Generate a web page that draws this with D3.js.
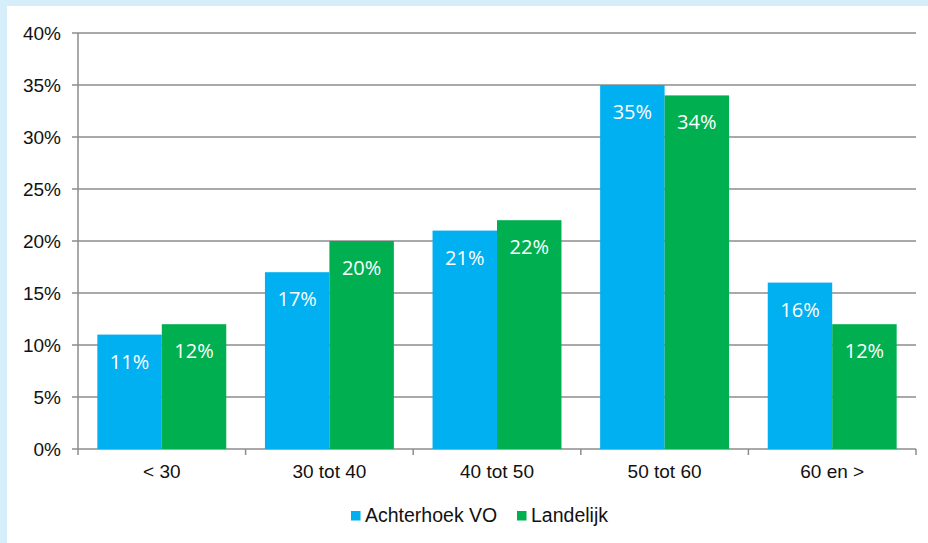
<!DOCTYPE html>
<html>
<head>
<meta charset="utf-8">
<script src="https://cdn.jsdelivr.net/npm/d3@7"></script>
<style>
  html, body { margin: 0; padding: 0; background: #d5eefa; }
  svg { display: block; }
</style>
</head>
<body>
<svg id="chart"></svg>
<script>
// data
const categories = ['< 30', '30 tot 40', '40 tot 50', '50 tot 60', '60 en >'];
const achterhoek = [11, 17, 21, 35, 16];
const landelijk = [12, 20, 22, 34, 12];
const yTicks = [0, 5, 10, 15, 20, 25, 30, 35, 40];
const seriesNames = ['Achterhoek VO', 'Landelijk'];
const colors = ['#00b0f0', '#00b050'];

const W = 928, H = 543;
const margin = {top: 33, right: 12, bottom: 94, left: 78};

const svg = d3.select('#chart').attr('width', W).attr('height', H);

// white card, light blue strip on top and left
svg.append('rect')
  .attr('x', 7).attr('y', 6)
  .attr('width', W - 7).attr('height', H - 6)
  .attr('fill', '#fff');

const x0 = d3.scaleBand()
  .domain(categories)
  .range([margin.left, W - margin.right])
  .paddingInner(0.6 / 2.6)
  .paddingOuter(0.3 / 2.6);

const x1 = d3.scaleBand()
  .domain(seriesNames)
  .range([0, x0.bandwidth()]);

const y = d3.scaleLinear()
  .domain([0, 40])
  .range([H - margin.bottom, margin.top]);

const axisColor = '#8c8c8c';

// gridlines
svg.append('g')
  .selectAll('line')
  .data(yTicks)
  .join('line')
    .attr('x1', margin.left - 6)
    .attr('x2', W - margin.right)
    .attr('y1', d => y(d))
    .attr('y2', d => y(d))
    .attr('stroke', axisColor)
    .attr('stroke-width', 1.5);

// y labels
svg.append('g')
  .selectAll('text')
  .data(yTicks)
  .join('text')
    .attr('x', margin.left - 17)
    .attr('y', d => y(d))
    .attr('dy', '0.35em')
    .attr('text-anchor', 'end')
    .attr('font-family', 'Liberation Sans, Arial, sans-serif')
    .attr('font-size', 19)
    .attr('fill', '#111')
    .text(d => d + '%');

// bars
const groups = svg.append('g')
  .selectAll('g')
  .data(categories)
  .join('g')
    .attr('transform', d => `translate(${x0(d)},0)`);

const barData = (c, i) => [
  {name: seriesNames[0], value: achterhoek[i]},
  {name: seriesNames[1], value: landelijk[i]}
];

groups.selectAll('rect')
  .data(barData)
  .join('rect')
    .attr('x', d => x1(d.name))
    .attr('y', d => y(d.value))
    .attr('width', x1.bandwidth())
    .attr('height', d => y(0) - y(d.value))
    .attr('fill', (d, i) => colors[i]);

groups.selectAll('text')
  .data(barData)
  .join('text')
    .attr('x', d => x1(d.name) + x1.bandwidth() / 2)
    .attr('y', d => y(d.value) + 34)
    .attr('text-anchor', 'middle')
    .attr('font-family', 'Open Sans, Noto Sans, sans-serif')
    .attr('font-size', 20)
    .attr('fill', '#fff')
    .text(d => d.value + '%');

// axes lines
svg.append('line')
  .attr('x1', margin.left).attr('x2', margin.left)
  .attr('y1', y(40)).attr('y2', y(0))
  .attr('stroke', axisColor).attr('stroke-width', 1.5);

const xTickPos = categories.map(c => x0(c) - x0.step() * x0.paddingInner() / 2);
xTickPos.push(W - margin.right);

svg.append('g')
  .selectAll('line')
  .data(xTickPos)
  .join('line')
    .attr('x1', d => d).attr('x2', d => d)
    .attr('y1', y(0)).attr('y2', y(0) + 6)
    .attr('stroke', axisColor).attr('stroke-width', 1.5);

// category labels
svg.append('g')
  .selectAll('text')
  .data(categories)
  .join('text')
    .attr('x', d => x0(d) + x0.bandwidth() / 2)
    .attr('y', y(0) + 29)
    .attr('text-anchor', 'middle')
    .attr('font-family', 'Liberation Sans, Arial, sans-serif')
    .attr('font-size', 19)
    .attr('fill', '#111')
    .text(d => d);

// legend
const legendX = [351, 517];
const legend = svg.append('g')
  .selectAll('g')
  .data(seriesNames)
  .join('g')
    .attr('transform', (d, i) => `translate(${legendX[i]},511)`);

legend.append('rect')
  .attr('width', 9.5).attr('height', 9.5)
  .attr('fill', (d, i) => colors[i]);

legend.append('text')
  .attr('x', 14)
  .attr('y', 10.5)
  .attr('font-family', 'Liberation Sans, Arial, sans-serif')
  .attr('font-size', 19.5)
  .attr('fill', '#111')
  .text(d => d);
</script>
</body>
</html>
